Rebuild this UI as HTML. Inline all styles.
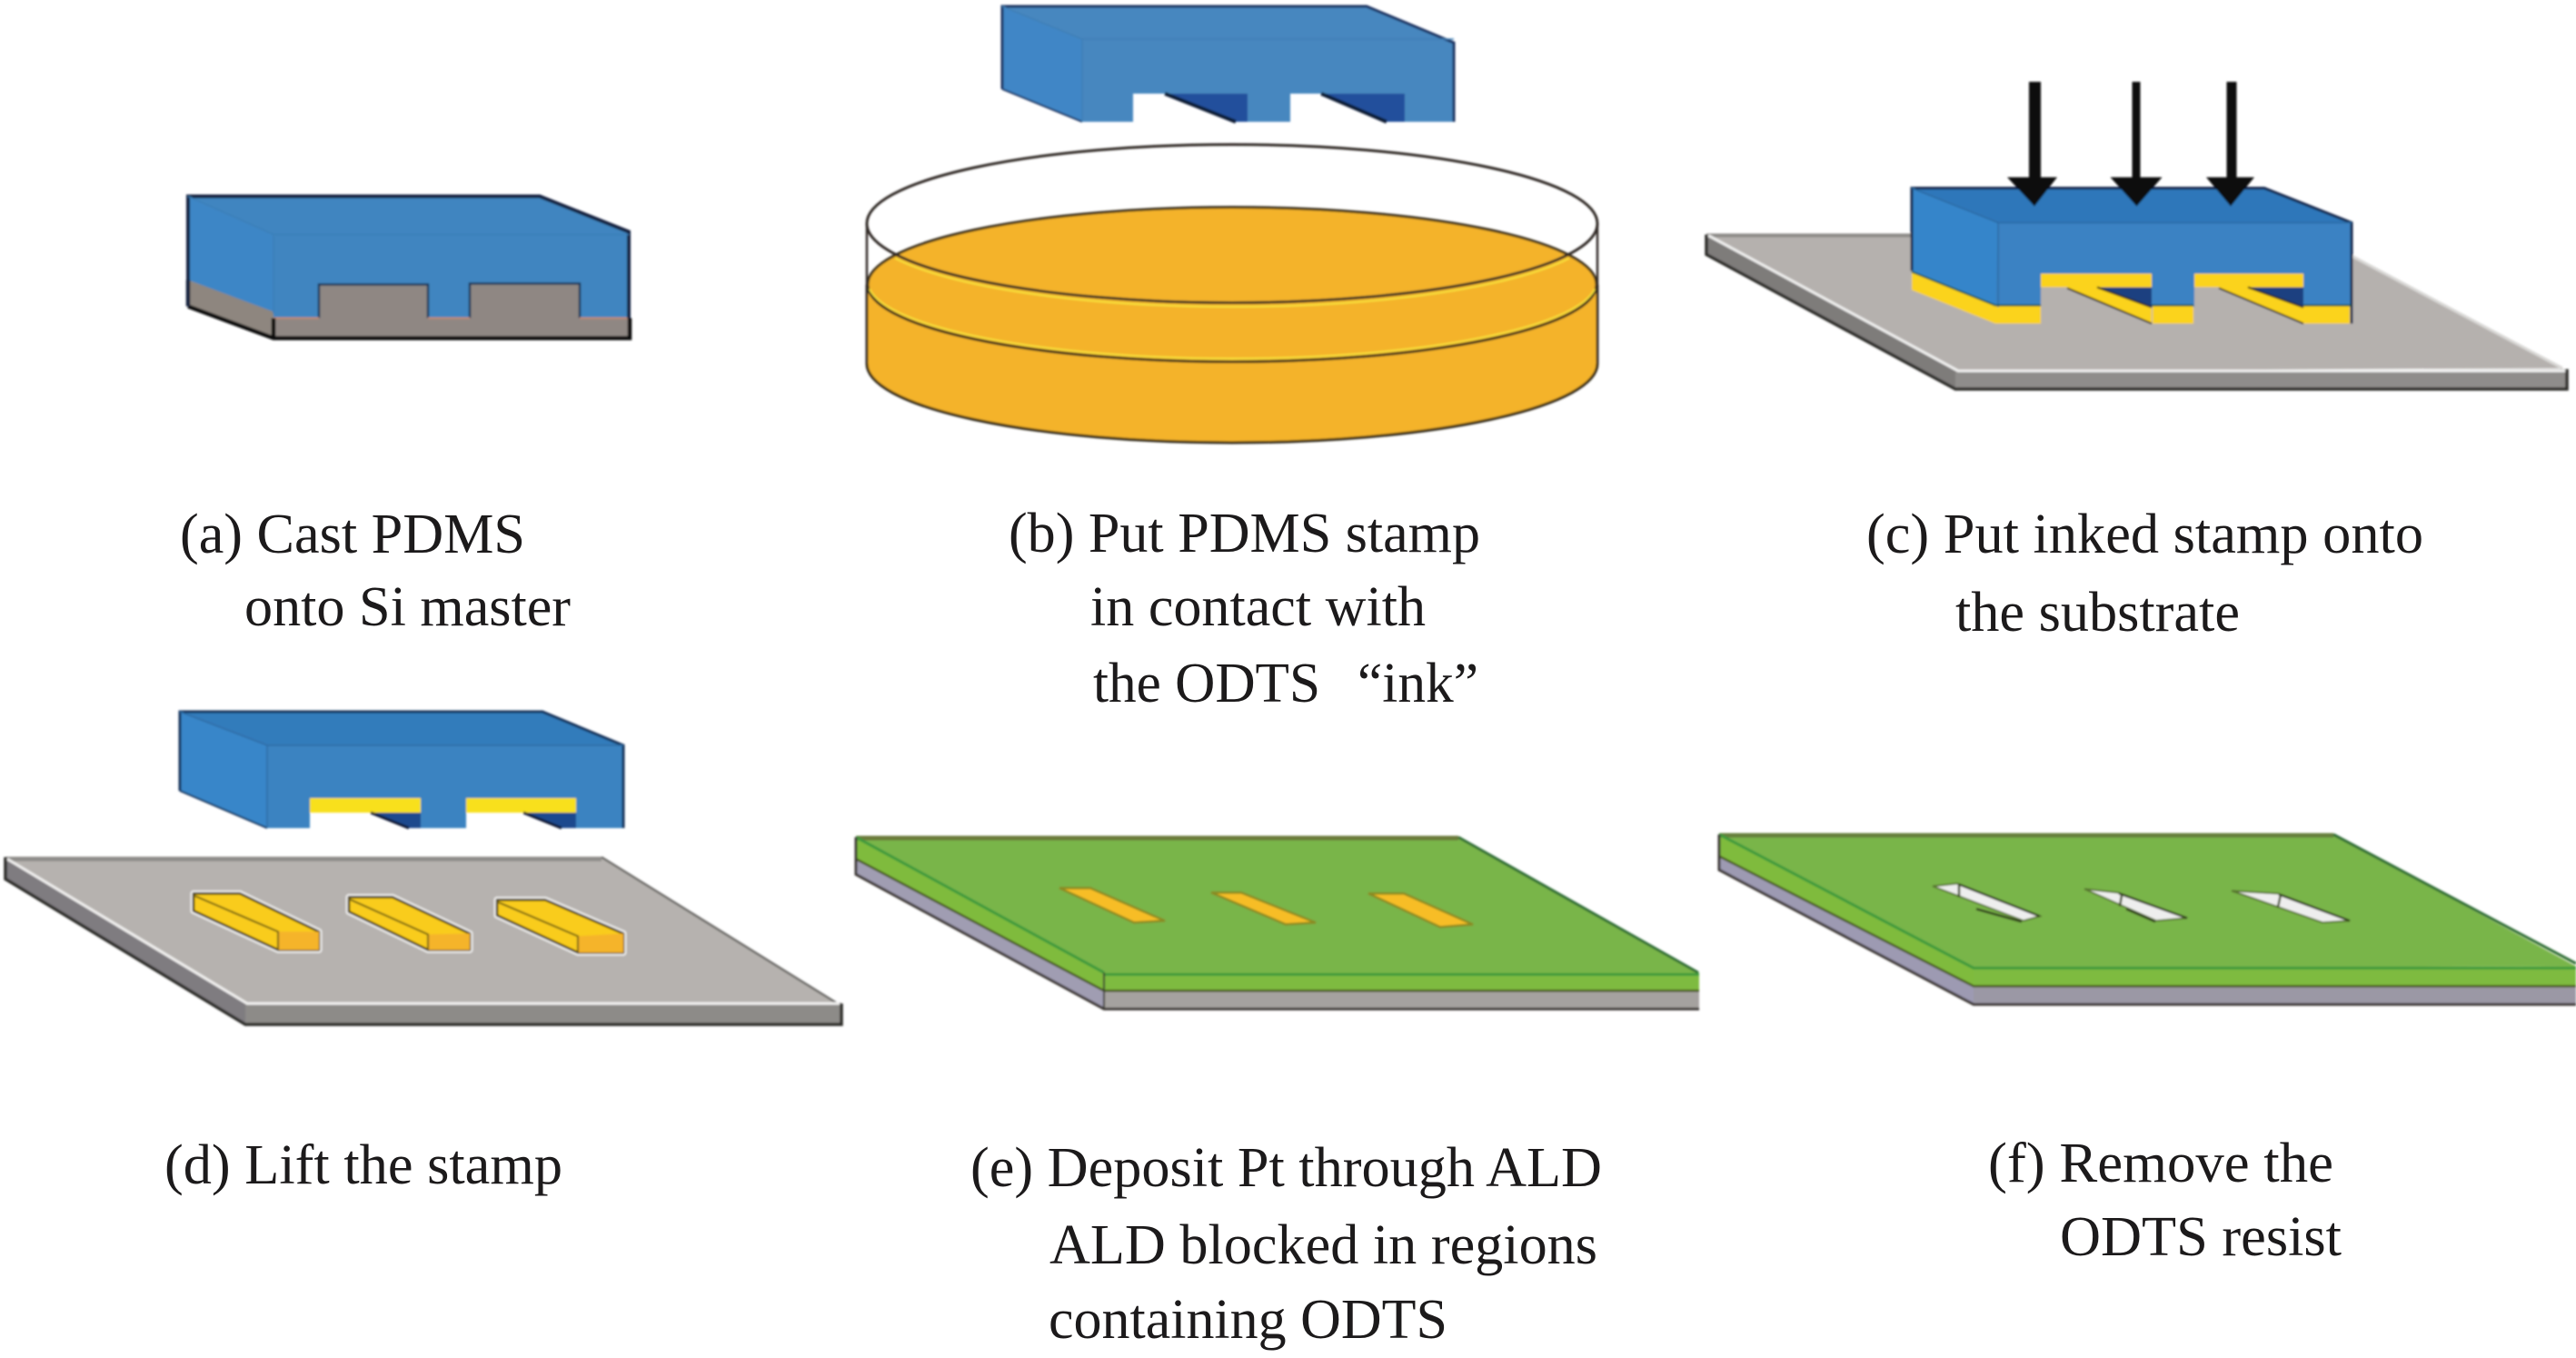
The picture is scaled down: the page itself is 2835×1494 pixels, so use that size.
<!DOCTYPE html>
<html><head><meta charset="utf-8"><style>
html,body{margin:0;padding:0;background:#fff;width:2835px;height:1494px;overflow:hidden}
svg{display:block}
text{font-family:"Liberation Serif",serif;font-size:62px;fill:#1c1a1b}
</style></head><body>
<svg width="2835" height="1494" viewBox="0 0 2835 1494" xmlns="http://www.w3.org/2000/svg">
<defs><filter id="b" x="-2%" y="-2%" width="104%" height="104%"><feGaussianBlur stdDeviation="1.1"/></filter></defs>
<g filter="url(#b)">
<!-- (a) -->
<polygon points="207,216 594,216 692,255 692,350 638,350 638,312 517,312 517,350 471,350 471,313 351,313 351,350 301,350 301,343 207,308" fill="#4185c0"/>
<polygon points="207,216 301,258 301,345 207,308" fill="#3d86c6"/>
<polygon points="207,308 301,343 301,372 207,337" fill="#8e867f"/>
<polygon points="301,350 351,350 351,313 471,313 471,350 517,350 517,312 638,312 638,350 692,350 692,372 301,372" fill="#8f8783"/>
<path d="M351,350V313H471V350M517,350V312H638V350" fill="none" stroke="#1d3a5c" stroke-width="2.500"/>
<path d="M301,350H351M471,350H517M638,350H692" stroke="#c08a70" stroke-width="2" fill="none"/>
<path d="M207,337 301,372 693,372V350M207,308V337M301,350V372" fill="none" stroke="#111" stroke-width="4.500"/>
<path d="M207,337V216H594L692,255V350" fill="none" stroke="#19233f" stroke-width="4"/>
<path d="M207,216 301,258H692M301,258V345" fill="none" stroke="#3a7fb8" stroke-width="1.500"/>
<!-- (b) stamp -->
<polygon points="1103,7 1504,7 1600,47 1600,134 1546,134 1546,103 1420,103 1420,134 1373,134 1373,103 1247,103 1247,134 1191,134 1103,98" fill="#4787bf"/>
<polygon points="1103,7 1191,43 1191,134 1103,98" fill="#3f86c6"/>
<polygon points="1282,103 1373,103 1373,134 1360,134" fill="#22509c"/>
<polygon points="1454,103 1546,103 1546,134 1526,134" fill="#22509c"/>
<path d="M1282,103 1360,134M1454,103 1526,134" stroke="#101a35" stroke-width="4" fill="none"/>
<path d="M1103,98V7H1504L1600,47V134" fill="none" stroke="#1c3060" stroke-width="3"/>
<path d="M1103,98 1191,134" fill="none" stroke="#1c3060" stroke-width="2"/>
<path d="M1103,7 1191,43H1600M1191,43V134" fill="none" stroke="#3f7fb6" stroke-width="1.500"/>
<!-- dish -->
<path d="M954,313V400A402,87 0 0 0 1758,400V313A402,85 0 0 0 954,313Z" fill="#f4b32c"/>
<path d="M954,313V400A402,87 0 0 0 1758,400V313" fill="none" stroke="#2e2818" stroke-width="3"/>
<ellipse cx="1356" cy="313" rx="401" ry="85" fill="#f4b32c" stroke="#3c321c" stroke-width="3"/>
<path d="M957,315A401,85 0 0 0 1755,315" fill="none" stroke="#f7e13a" stroke-width="2" transform="translate(0,3)"/>
<ellipse cx="1356" cy="246" rx="402" ry="87" fill="none" stroke="#302c28" stroke-width="3"/>
<path d="M985,281A402,87 0 0 0 1727,281" fill="none" stroke="#f7e13a" stroke-width="2" transform="translate(0,3)"/>
<path d="M954,246V400M1758,246V400" stroke="#302c28" stroke-width="2.500" fill="none"/>
<!-- (c) substrate -->
<polygon points="1878,258 2544,258 2820,405 2152,408" fill="#b5b1ae"/>
<polygon points="1878,258 2152,408 2152,428 1878,280" fill="#7e7b7a"/>
<polygon points="2152,408 2825,406 2825,428 2152,428" fill="#8f8d8b"/>
<path d="M1878,258H2544L2820,405" fill="none" stroke="#d9d8d6" stroke-width="3"/>
<path d="M1878,259H2544" stroke="#8d8b88" stroke-width="4"/>
<path d="M1880,259 2155,408H2825" fill="none" stroke="#efefee" stroke-width="3"/>
<path d="M1878,258V280L2152,428H2825V406" fill="none" stroke="#2f2d2b" stroke-width="3.500"/>
<!-- (c) stamp -->
<polygon points="2104,207 2492,207 2588,245 2588,338 2535,338 2535,302 2415,302 2415,338 2368,338 2368,302 2246,302 2246,338 2196,338 2104,298" fill="#3a82c3"/>
<polygon points="2104,207 2199,245 2196,338 2104,298" fill="#3585ca"/>
<polygon points="2104,207 2492,207 2588,245 2199,245" fill="#2d77ba"/>
<polygon points="2104,300 2196,336 2196,356 2104,319" fill="#fbd31a"/>
<polygon points="2196,336 2246,336 2246,356 2196,356" fill="#fbd31a"/>
<polygon points="2369,336 2414,336 2414,356 2369,356" fill="#fbd31a"/>
<polygon points="2535,336 2586,336 2586,356 2535,356" fill="#fbd31a"/>
<rect x="2246" y="301" width="122" height="15" fill="#fbd31a"/>
<rect x="2415" y="301" width="120" height="15" fill="#fbd31a"/>
<polygon points="2308,316 2368,316 2368,338" fill="#1d3f80"/>
<polygon points="2472,316 2535,316 2535,338" fill="#1d3f80"/>
<polygon points="2275,316 2308,316 2368,338 2368,356" fill="#fbd31a"/>
<polygon points="2442,316 2474,316 2535,338 2535,356" fill="#fbd31a"/>
<path d="M2308,316 2368,338M2474,316 2535,338M2275,317 2368,356M2442,317 2535,356" stroke="#2b2a1e" stroke-width="2" fill="none"/>
<path d="M2104,298V207H2492L2588,245V356" fill="none" stroke="#15264c" stroke-width="3"/>
<path d="M2104,207 2199,245H2588M2199,245V338" fill="none" stroke="#2c6aa4" stroke-width="1.500"/>
<path d="M2104,299 2196,336H2246M2368,336H2414M2535,336H2588" fill="none" stroke="#10553a" stroke-width="2"/>
<!-- arrows -->
<path d="M2233,90h13v105h18l-25,32l-30,-32h24z" fill="#0c0c0c"/>
<path d="M2346.500,90h9v105h24l-28,32l-29,-32h24z" fill="#0c0c0c"/>
<path d="M2450.500,90h11v105h19.500l-26,32l-27,-32h22.500z" fill="#0c0c0c"/>
<!-- (d) stamp -->
<polygon points="198,783 597,783 686,820 686,911 634,911 634,878 513,878 513,911 463,911 463,878 341,878 341,911 294,911 198,870" fill="#3b83c1"/>
<polygon points="198,783 294,820 294,911 198,870" fill="#3886c9"/>
<polygon points="198,783 597,783 686,820 294,820" fill="#337cbb"/>
<rect x="341" y="878" width="122" height="16" fill="#f8e01c"/>
<rect x="513" y="878" width="121" height="16" fill="#f8e01c"/>
<polygon points="408,894 463,894 463,911 450,911" fill="#1f4a8e"/>
<polygon points="576,894 634,894 634,911 618,911" fill="#1f4a8e"/>
<path d="M408,894 450,911M576,894 618,911" stroke="#101830" stroke-width="3" fill="none"/>
<path d="M198,870V783H597L686,820V911" fill="none" stroke="#17305a" stroke-width="3"/>
<path d="M198,870 294,911" fill="none" stroke="#17305a" stroke-width="2"/>
<path d="M198,783 294,820H686M294,820V911" fill="none" stroke="#2d6ca5" stroke-width="1.500"/>
<!-- (d) substrate -->
<polygon points="6,943 662,943 920,1103 270,1103" fill="#b6b2af"/>
<polygon points="6,943 270,1103 270,1127 6,967" fill="#7f7c80"/>
<polygon points="270,1103 926,1103 926,1127 270,1127" fill="#8d8b88"/>
<path d="M6,945H662" stroke="#8f8d8a" stroke-width="5"/>
<path d="M662,943 920,1103" stroke="#6b6966" stroke-width="2.500" fill="none"/>
<path d="M8,945 272,1104H924" fill="none" stroke="#f0efee" stroke-width="3"/>
<path d="M6,943V967L270,1127H926V1104" fill="none" stroke="#2f2d2b" stroke-width="3.500"/>
<!-- pads -->
<g stroke="#fff" stroke-width="7" fill="none" stroke-linejoin="round" opacity=".75">
<polygon points="213,983 264,983 351,1025 351,1045 306,1045 213,1002"/>
<polygon points="384,987 432,987 517,1027 517,1045 471,1045 384,1003"/>
<polygon points="547,990 600,990 686,1027 686,1048 636,1048 547,1007"/>
</g>
<g fill="#f9cc1a" stroke="#3c3410" stroke-width="2.500" stroke-linejoin="round">
<polygon points="213,983 264,983 351,1025 351,1045 306,1045 213,1002"/>
<polygon points="384,987 432,987 517,1027 517,1045 471,1045 384,1003"/>
<polygon points="547,990 600,990 686,1027 686,1048 636,1048 547,1007"/>
</g>
<g fill="#f5b42a">
<polygon points="306,1025 351,1025 351,1045 306,1045"/>
<polygon points="471,1028 517,1027 517,1045 471,1045"/>
<polygon points="636,1030 686,1027 686,1048 636,1048"/>
</g>
<path d="M213,985 306,1025V1045M384,989 471,1028V1045M547,992 636,1030V1048" fill="none" stroke="#6d5d12" stroke-width="2"/>
<!-- (e) -->
<polygon points="942,921 1605,921 1869,1070 1215,1070" fill="#79b548"/>
<polygon points="942,921 1215,1070 1215,1090 942,945" fill="#7fbb3c"/>
<polygon points="942,945 1215,1090 1215,1110 942,962" fill="#a09db2"/>
<polygon points="1215,1070 1870,1070 1870,1090 1215,1090" fill="#7ebb3f"/>
<polygon points="1215,1090 1870,1090 1870,1110 1215,1110" fill="#a5a29f"/>
<path d="M942,922H1605" stroke="#6a7a3a" stroke-width="5"/>
<path d="M1605,921 1869,1070" stroke="#2f6d34" stroke-width="3" fill="none"/>
<path d="M942,921 1215,1070M1215,1072H1870" fill="none" stroke="#3d9a3e" stroke-width="3"/>
<path d="M942,945 1215,1090H1870" fill="none" stroke="#4a5a1c" stroke-width="2.500"/>
<path d="M942,921V962L1215,1110H1870" fill="none" stroke="#3c3836" stroke-width="3"/>
<path d="M1215,1070V1110" stroke="#3a3a30" stroke-width="2"/>
<g fill="#f7bd25" stroke="#8a8a20" stroke-width="2.500">
<polygon points="1166,977 1200,977 1282,1013 1248,1015"/>
<polygon points="1333,982 1366,982 1448,1015 1415,1017"/>
<polygon points="1506,983 1545,983 1621,1017 1585,1020"/>
</g>
<!-- (f) -->
<polygon points="1892,918 2568,918 2835,1063 2172,1065" fill="#79b548"/>
<polygon points="1892,918 2172,1065 2172,1085 1892,942" fill="#7fbb3c"/>
<polygon points="1892,942 2172,1085 2172,1105 1892,957" fill="#9d9ab2"/>
<polygon points="2172,1065 2835,1063 2835,1085 2172,1085" fill="#7ebb3f"/>
<polygon points="2172,1085 2835,1085 2835,1105 2172,1105" fill="#9b98a5"/>
<path d="M1892,919H2568" stroke="#66803c" stroke-width="5"/>
<path d="M2568,918 2835,1060" stroke="#2f6d34" stroke-width="3" fill="none"/>
<path d="M1892,918 2172,1065H2835" fill="none" stroke="#3d9a3e" stroke-width="3"/>
<path d="M1892,942 2172,1085H2835" fill="none" stroke="#4a5a1c" stroke-width="2.500"/>
<path d="M1892,918V957L2172,1105H2835" fill="none" stroke="#3c3836" stroke-width="3"/>
<g fill="#eeeeee" stroke="#57742f" stroke-width="2">
<polygon points="2127,975 2154,972 2245,1008 2227,1013"/>
<polygon points="2294,978 2331,982 2407,1010 2373,1013"/>
<polygon points="2456,980 2507,983 2586,1013 2556,1015"/>
</g>
<path d="M2156,973 2245,1008M2175,1000 2225,1014M2332,983 2407,1010M2340,1000 2372,1014M2508,984 2586,1013" fill="none" stroke="#2f3a1c" stroke-width="2.500"/>
<path d="M2156,972V987M2335,985 2333,997M2510,984 2507,998" stroke="#3a4a24" stroke-width="2.500" fill="none"/>
</g>
<!-- labels -->
<text x="198" y="608" textLength="380" lengthAdjust="spacingAndGlyphs">(a) Cast PDMS</text>
<text x="269" y="688" textLength="359" lengthAdjust="spacingAndGlyphs">onto Si master</text>
<text x="1110" y="607" textLength="519" lengthAdjust="spacingAndGlyphs">(b) Put PDMS stamp</text>
<text x="1200" y="688" textLength="369" lengthAdjust="spacingAndGlyphs">in contact with</text>
<text x="1203" y="772" textLength="250" lengthAdjust="spacingAndGlyphs">the ODTS</text>
<text x="1494" y="772" textLength="133" lengthAdjust="spacingAndGlyphs">“ink”</text>
<text x="2054" y="608" textLength="613" lengthAdjust="spacingAndGlyphs">(c) Put inked stamp onto</text>
<text x="2152" y="694" textLength="313" lengthAdjust="spacingAndGlyphs">the substrate</text>
<text x="181" y="1302" textLength="438" lengthAdjust="spacingAndGlyphs">(d) Lift the stamp</text>
<text x="1068" y="1305" textLength="695" lengthAdjust="spacingAndGlyphs">(e) Deposit Pt through ALD</text>
<text x="1155" y="1390" textLength="603" lengthAdjust="spacingAndGlyphs">ALD blocked in regions</text>
<text x="1154" y="1472" textLength="439" lengthAdjust="spacingAndGlyphs">containing ODTS</text>
<text x="2188" y="1300" textLength="380" lengthAdjust="spacingAndGlyphs">(f) Remove the</text>
<text x="2267" y="1381" textLength="310" lengthAdjust="spacingAndGlyphs">ODTS resist</text>
</svg>
</body></html>
